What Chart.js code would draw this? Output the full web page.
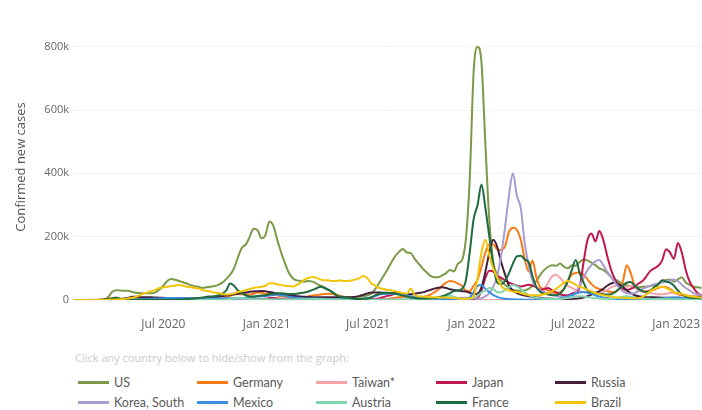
<!DOCTYPE html>
<html><head><meta charset="utf-8">
<script src="https://cdn.jsdelivr.net/npm/chart.js@4.4.0/dist/chart.umd.min.js"></script>
<style>
html,body{margin:0;padding:0;background:#fff;width:702px;height:410px;overflow:hidden;font-family:"Open Sans",sans-serif;}
#wrap{position:relative;width:702px;height:410px;}
#c{position:absolute;left:0;top:0;}
#note{position:absolute;left:75px;top:350px;font-size:11px;color:#cacaca;white-space:nowrap;}
.leg{position:absolute;font-family:Lato,sans-serif;font-size:12.5px;color:#5a5a5a;display:flex;align-items:center;cursor:pointer;height:16px;white-space:nowrap;}
.leg .sw{display:inline-block;width:31px;height:3px;margin-right:5px;}
.leg.off{opacity:0.35;}
</style></head><body>
<div id="wrap"><canvas id="c" width="702" height="340"></canvas>
<div id="note">Click any country below to hide/show from the graph:</div>
<div id="legend"></div></div>
<script>
// weekly 7-day-average confirmed new cases (thousands), first week 2020-01-22
const startDate = '2020-01-22';
const tickDates = ['2020-07-01','2021-01-01','2021-07-01','2022-01-01','2022-07-01','2023-01-01'];
const tickLabels = ['Jul 2020','Jan 2021','Jul 2021','Jan 2022','Jul 2022','Jan 2023'];
const yTicks = [0,200,400,600,800];
const countries = ['US','Germany','Taiwan*','Japan','Russia','Korea, South','Mexico','Austria','France','Brazil'];
const colors = ['#7b9a47','#fb7a16','#f4a3aa','#c2164f','#45203d','#a99cd0','#3b8fe0','#80d4ae','#1f6b40','#f2c40a'];

const US = [0,0,0,0,0,0,0.1,0.5,2,10,
26,31,30,29,29,26,23,22,21,21,
21,24,33,45,60,66,64,60,56,52,
47,43,42,38,40,42,44,48,55,66,
80,100,135,165,175,200,225,220,195,205,
248,235,190,150,115,85,68,62,60,58,
60,58,52,45,40,33,25,18,13,10,
9,9,9,10,12,15,20,35,55,75,
95,118,138,152,161,150,148,130,115,100,
88,76,72,72,78,85,95,90,115,125,
190,380,720,800,750,490,250,120,80,60,
48,38,32,30,29,30,35,45,60,80,
95,105,110,108,115,105,100,110,108,120,
128,125,118,110,100,95,85,72,65,58,
52,47,43,40,40,42,42,45,45,50,
60,63,65,58,65,72,55,48,42,40,
38];
const Germany = [0,0,0,0,0,0.05,0.2,0.8,2.5,4.5,
5.5,5,4,2.5,1.5,1,0.8,0.6,0.5,0.4,
0.4,0.4,0.6,0.5,0.4,0.5,0.6,0.7,0.9,1.2,
1.3,1.3,1.3,1.4,1.6,1.8,2.2,3,5,8,
13,17,19,18,17,17,20,24,23,19,
20,18,14,12,10,8,7,8,8,9,
12,14,16,17,19,20,19,16,12,9,
6,4,2.5,1.5,0.9,0.7,0.8,1.2,1.8,2.5,
3.5,5,7,9,10,10,9,8,8.5,9,
12,17,25,33,45,55,60,58,52,45,
30,28,45,65,105,150,175,175,160,158,
170,215,228,222,190,130,90,125,70,40,
35,30,25,22,25,35,60,80,85,88,
80,65,50,40,35,30,28,25,25,35,
60,110,85,45,30,28,28,30,33,38,
42,40,35,25,18,15,14,12,12,12,
13];
const Taiwan = [0,0,0,0,0,0,0,0,0,0,
0,0,0,0,0,0,0,0,0,0,
0,0,0,0,0,0,0,0,0,0,
0,0,0,0,0,0,0,0,0,0,
0,0,0,0,0,0,0,0,0,0,
0,0,0,0,0,0,0,0,0,0,
0,0,0,0,0,0,0,0,0,0,
0.1,0.3,0.4,0.4,0.3,0.2,0.1,0.05,0.03,0.02,
0,0,0,0,0,0,0,0,0,0,
0,0,0,0,0,0,0,0,0,0,
0,0,0,0,0,0,0,0,0,0,
0.05,0.05,0.05,0.1,0.15,0.2,0.5,1.5,5,15,
35,55,75,80,70,55,45,38,32,28,
25,24,24,22,22,25,32,40,45,46,
43,42,45,40,32,27,24,22,20,18,
18,20,22,22,20,18,14,10,12,12,
10];
const Japan = [0,0,0,0,0,0,0,0,0,0,
0.1,0.3,0.5,0.4,0.3,0.2,0.05,0.03,0.03,0.04,
0.04,0.05,0.1,0.15,0.25,0.4,0.7,1,1.3,1.2,
1,0.8,0.6,0.5,0.5,0.5,0.5,0.5,0.6,0.6,
0.7,0.9,1.4,2,2.2,2.3,2.6,3,3.3,4,
6,6.5,5,3.5,2.5,1.8,1.3,1.1,1.1,1.2,
1.4,1.7,2.2,3,4,4.8,5.2,5.8,6,5.3,
4,3,2,1.6,1.5,1.7,2.2,3.2,5.5,9,
13,16,20,23,20,15,10,6,3,1.6,
0.8,0.5,0.3,0.2,0.15,0.15,0.12,0.12,0.15,0.2,
0.3,0.5,2,6,30,70,92,90,78,70,
62,55,50,45,43,45,48,45,40,32,
35,38,30,25,18,15,15,20,25,40,
120,190,210,185,218,190,140,95,65,45,
35,32,35,42,52,60,75,92,100,108,
125,160,150,130,180,150,95,58,38,22,
15];
const Russia = [0,0,0,0,0,0,0,0,0.1,0.3,
0.8,1.5,3,5,6.5,10,10.5,9,8.8,8.7,
8.5,8,7.5,6.8,6.6,6.2,5.8,5.5,5.2,5,
4.9,4.8,5,5.3,5.7,6.5,8,10,12,14,
16,18,20,22,24,26,27,28,28.5,27.5,
25,23,20,18,16,14.5,13,12,11,10,
9.5,9,8.8,8.7,8.7,8.8,8.5,8.3,8.3,8.4,
8.5,9,10,13,17,21,24,24,23.5,23,
22,22,21,19,18.5,18,18.5,20,22,24,
28,32,36,39,40,38,34,32,30,28,
27,23,18,20,40,90,150,190,168,120,
80,45,30,22,17,14,12,10,8,6,
5,4.5,4,3.5,3.3,3.2,3.3,3.5,4,5.5,
8,12,17,22,28,35,45,52,55,50,
42,30,22,15,12,10,9,9,8.5,8,
7.5,7,7,7.5,7,6.5,7,8,9,10,
11];
const Korea = [0,0,0,0.2,0.5,0.6,0.5,0.3,0.1,0.1,
0.1,0.05,0.03,0.01,0.01,0.02,0.02,0.02,0.04,0.04,
0.04,0.04,0.05,0.05,0.05,0.04,0.05,0.03,0.04,0.1,
0.3,0.35,0.2,0.15,0.1,0.1,0.1,0.07,0.08,0.1,
0.12,0.13,0.15,0.25,0.4,0.5,0.6,0.9,1,1,
0.8,0.6,0.4,0.4,0.4,0.4,0.5,0.45,0.4,0.45,
0.45,0.45,0.5,0.6,0.65,0.7,0.6,0.6,0.6,0.6,
0.6,0.6,0.55,0.5,0.6,0.7,1.1,1.4,1.6,1.6,
1.6,1.8,1.9,1.8,1.8,1.8,1.8,2,2.5,2.4,
2,1.6,1.8,2.2,2.5,3,3.8,4.5,6,7,
7,6,4.5,4,5.5,12,22,42,75,140,
230,330,400,330,290,180,110,60,40,30,
25,22,18,13,10,8,7,8,25,45,
70,95,110,122,126,110,90,72,55,40,
28,22,20,22,28,35,40,45,50,52,
55,58,62,65,60,48,38,30,22,18,
15];
const Mexico = [0,0,0,0,0,0,0,0,0.02,0.1,
0.2,0.4,0.6,0.8,1.2,1.6,2,2.5,3,3.5,
4,4.5,5,5.5,6,6.5,6.7,6.5,6,5.5,
5.3,5,4.8,4.5,4.3,4.3,4.5,4.7,5,5.3,
5.5,5.8,6,6.5,7.5,9,10,11,11.5,12,
14,16,17,15,13,10,8,7,6,5,
4.5,4.5,4.5,4,3.5,3,2.5,2.3,2.3,2.5,
2.6,2.8,3,3.5,4.5,6,9,13,17,19,
20,20,19,18,16,14,12,10,8,6.5,
5,4,3.5,3.2,3,3,2.8,2.6,2.5,2.5,
3,8,25,45,47,35,25,16,10,6,
4,3,2,1.5,1.2,1,0.8,0.8,1,1.2,
1.5,2,2.5,3.5,5,8,12,16,20,24,
25,23,20,15,11,8,6,4,3,2.5,
2,2,2,1.8,1.8,1.8,2,2.5,3,4,
5,6,7,8,8,7,6,5,4,3,
2.5];
const Austria = [0,0,0,0,0,0,0.05,0.3,0.7,0.8,
0.6,0.3,0.1,0.06,0.05,0.04,0.04,0.03,0.03,0.04,
0.03,0.03,0.04,0.08,0.1,0.1,0.12,0.1,0.12,0.15,
0.2,0.3,0.35,0.45,0.7,0.75,0.8,0.9,1.1,1.5,
3,4.5,7,6.5,5,3.5,2.5,2.5,2.5,2.2,
1.8,1.5,1.4,1.3,1.3,1.3,1.4,1.7,2,2.4,
2.9,3.3,3.4,3,2.6,2.2,1.8,1.5,1.2,0.9,
0.5,0.3,0.2,0.1,0.1,0.1,0.15,0.2,0.3,0.4,
0.6,0.9,1.1,1.2,1.5,1.7,1.6,1.9,2,2.2,
2.6,3.2,4.4,6.4,9.5,12,14,10,6,3.5,
2.7,4,8,14,24,30,38,34,25,24,
33,40,47,43,35,24,15,10,7,5,
4,3.5,3,2.8,3.5,5,7,9,11,12,
11,9,7,6,5,4,3.5,3.5,5,8,
10,12,10,7,5,4,4,3.5,3,3,
3,3,3,2.5,2,2,1.5,1.3,1.2,1.1,
1];
const France = [0,0,0,0,0,0.1,0.3,0.8,2,3.5,
4.5,8,4,3,1.5,1,0.8,0.5,0.4,0.5,
0.5,0.5,0.6,0.6,0.7,0.8,1,1.5,2,3,
4,5,6.5,8,10,11,12,14,20,30,
52,45,30,22,15,11,11,13,14,15,
18,20,21,21,20,19,19,20,22,24,
27,32,37,42,38,32,25,15,10,8,
7,5,3.5,3,4,5,8,15,20,22,
23,22,20,17,14,11,8,6,5,4.5,
5,5,6,8,12,16,22,28,30,35,
60,150,255,300,365,290,200,110,55,50,
60,85,115,138,140,128,120,75,40,25,
20,17,15,15,20,35,60,95,126,85,
55,30,25,22,20,18,17,18,25,35,
45,55,57,45,35,28,25,30,40,50,
62,58,55,45,30,18,12,8,6,6,
5];
const Brazil = [0,0,0,0,0,0,0,0.05,0.2,0.4,
1,1.3,2,3,5,7,10,15,20,25,
28,32,38,40,42,44,46,47,45,42,
40,38,36,31,29,27,24,22,19,17,
18,21,25,28,31,35,38,40,42,45,
53,52,50,47,45,44,43,48,55,65,
70,73,70,65,62,62,60,60,62,60,
60,62,65,70,76,68,52,45,38,35,
32,30,28,25,22,20,36,15,12,11,
10,9,9,8,8,8,7,6,5,4,
4,5,10,70,150,190,140,100,70,45,
35,30,27,25,22,18,16,15,15,16,
18,22,28,35,45,55,60,55,48,42,
38,32,27,22,18,15,13,11,9,8,
7,6,5.5,5,6,10,18,28,35,40,
42,38,32,25,22,20,15,12,10,9,
8];

const series = [US, Germany, Taiwan, Japan, Russia, Korea, Mexico, Austria, France, Brazil];

const DAY = 86400000;
const t0 = Date.parse(startDate + 'T00:00:00Z');
const dayOf = s => Math.round((Date.parse(s + 'T00:00:00Z') - t0) / DAY);
const tickDays = tickDates.map(dayOf);

const datasets = countries.map((name, k) => ({
  label: name,
  data: series[k].map((v, i) => ({x: i * 7, y: v})),
  borderColor: colors[k],
  backgroundColor: colors[k],
  borderWidth: 2,
  pointRadius: 0,
  pointHoverRadius: 0,
  fill: false,
  cubicInterpolationMode: 'monotone',
  order: countries.length - 1 - k
}));

const chart = new Chart(document.getElementById('c'), {
  type: 'line',
  data: { datasets },
  options: {
    responsive: false,
    animation: false,
    events: [],
    layout: { padding: { top: 34, left: 0, right: 0, bottom: 0 } },
    plugins: { legend: { display: false }, tooltip: { enabled: false } },
    scales: {
      x: {
        type: 'linear',
        min: 0,
        max: 1121,
        grid: { display: false, drawTicks: false },
        border: { display: false },
        afterBuildTicks: s => { s.ticks = tickDays.map(v => ({ value: v })); },
        afterFit: s => { s.height = 40; s.paddingLeft = 0; s.paddingRight = 0; },
        ticks: {
          autoSkip: false, maxRotation: 0, padding: 17,
          color: '#666', font: { family: 'Open Sans', size: 12 },
          callback: v => { const j = tickDays.indexOf(v); return j >= 0 ? tickLabels[j] : ''; }
        }
      },
      y: {
        min: 0,
        max: 840,
        grid: { color: '#f3f3f3', drawTicks: false },
        border: { display: false },
        afterBuildTicks: s => { s.ticks = yTicks.map(v => ({ value: v })); },
        afterFit: s => { s.width = 73; },
        ticks: {
          padding: 4, color: '#666', font: { family: 'Open Sans', size: 11 },
          callback: v => v === 0 ? '0' : v + 'k'
        },
        title: {
          display: true, text: 'Confirmed new cases', color: '#555',
          font: { family: 'Open Sans', size: 13 }, padding: { top: 13, bottom: 0 }
        }
      }
    }
  }
});

// HTML legend (5 columns x 2 rows)
const legend = document.getElementById('legend');
const colX = [78, 197, 316, 436, 555];
const rowY = [374, 394];
countries.forEach((name, k) => {
  const d = document.createElement('div');
  d.className = 'leg';
  d.style.left = colX[k % 5] + 'px';
  d.style.top = rowY[Math.floor(k / 5)] + 'px';
  d.innerHTML = '<span class="sw" style="background:' + colors[k] + '"></span><span>' + name + '</span>';
  d.onclick = () => {
    const vis = chart.isDatasetVisible(k);
    chart.setDatasetVisibility(k, !vis);
    d.classList.toggle('off', vis);
    chart.update();
  };
  legend.appendChild(d);
});
</script></body></html>
